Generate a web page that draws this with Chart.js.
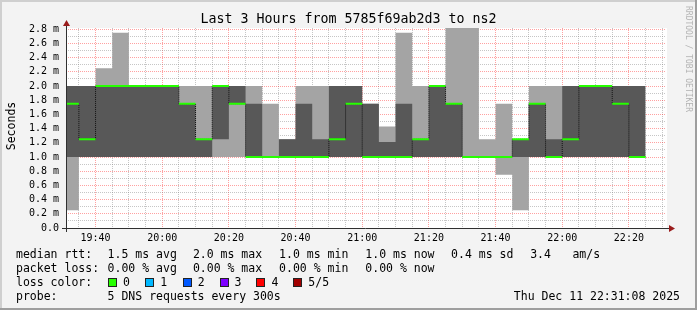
<!DOCTYPE html>
<html>
<head>
<meta charset="utf-8">
<script src="https://cdn.jsdelivr.net/npm/chart.js@4/dist/chart.umd.min.js"></script>
<style>
  html, body { margin: 0; padding: 0; background: #f3f3f3; }
  #wrap { position: relative; width: 697px; height: 310px; overflow: hidden;
          font-family: 'DejaVu Sans Mono', monospace; color: #000; }
  #wrap canvas { position: absolute; left: 0; top: 0; }
  .t { position: absolute; white-space: pre; font-size: 11.5px; line-height: 12px; }
  #title { position: absolute; left: 0; top: 12px; width: 697px; text-align: center;
           font-size: 13.3px; line-height: 14px; white-space: pre; }
  #ytitle { position: absolute; left: -19px; top: 120px; width: 60px; text-align: center;
            font-size: 11.5px; line-height: 12px; transform: rotate(-90deg); }
  #brand { position: absolute; left: 633px; top: 55px; width: 110px; text-align: center;
           font-size: 8px; line-height: 8px; color: #b4b4b4; transform: rotate(90deg); white-space: pre; }
  .sq { position: absolute; width: 7px; height: 7px; border: 1px solid #222; }
</style>
</head>
<body>
<div id="wrap">
  <canvas id="canvas" width="697" height="310"></canvas>
  <div id="title">Last 3 Hours from 5785f69ab2d3 to ns2</div>
  <div id="ytitle">Seconds</div>
  <div id="brand">RRDTOOL / TOBI OETIKER</div>
</div>
<script>
// end of each 5 minute step (rrd timestamps)
const times = ['19:35','19:40','19:45','19:50','19:55','20:00','20:05','20:10','20:15','20:20',
  '20:25','20:30','20:35','20:40','20:45','20:50','20:55','21:00','21:05','21:10',
  '21:15','21:20','21:25','21:30','21:35','21:40','21:45','21:50','21:55','22:00',
  '22:05','22:10','22:15','22:20','22:25'];

// sorted pings, ms
const ping1 = [0.25,1,1,1,1,1,1,1,1,1, 1,1,1,1,1,1,1,1,1,1, 1,1,1,1,1,1,0.75,0.25,1,1, 1,1,1,1,1];
const ping2 = [1,1,1,1,1,1,1,1,1,1.25, 1.75,1,1,1,1,1,1,1,1,1, 1,1,1,1,1,1,1,1,1,1, 1,1,1,1,1];
const median = [1.75,1.25,2,2,2,2,2,1.75,1.25,2, 1.75,1,1,1,1,1,1.25,1.75,1,1, 1,1.25,2,1.75,1,1,1,1.25,1.75,1, 1.25,2,2,1.75,1];
const ping4 = [2,2,2,2,2,2,2,1.75,1.25,2, 2,1.75,1,1.25,1.75,1.25,2,2,1.75,1.21, 1.75,1.25,2,1.75,1,1,1,1.25,1.75,1.25, 2,2,2,2,2];
const ping5 = [2,2,2.25,2.75,2,2,2,2,2,2, 2,2,1.75,1.25,2,2,2,2,1.75,1.43, 2.75,2,2,2.82,2.82,1.25,1.75,1.25,2,2, 2,2,2,2,2];

const rangeStart = '19:31:08';
const rangeEnd = '22:31:08';
const xLabelTimes = ['19:40','20:00','20:20','20:40','21:00','21:20','21:40','22:00','22:20'];
const yLabelVals = [0, 0.2, 0.4, 0.6, 0.8, 1.0, 1.2, 1.4, 1.6, 1.8, 2.0, 2.2, 2.4, 2.6, 2.8];

const rttStats = ['1.5 ms avg', '2.0 ms max', '1.0 ms min', '1.0 ms now', '0.4 ms sd'];
const amPerSec = '3.4';
const lossStats = ['0.00 % avg', '0.00 % max', '0.00 % min', '0.00 % now'];
const lossLabels = ['0', '1', '2', '3', '4', '5/5'];
const lossColors = ['#26ff00', '#00b8ff', '#0059ff', '#7e00ff', '#ff0000', '#a10000'];
const probeText = '5 DNS requests every 300s';
const stamp = 'Thu Dec 11 22:31:08 2025';

function toMin(s) {
  const p = s.split(':').map(Number);
  return p[0] * 60 + p[1] + (p[2] || 0) / 60;
}

// value i covers the 5 minutes up to times[i]
function stepSeries(vals) {
  const pts = [{ x: toMin(times[0]) - 5, y: vals[0] }];
  times.forEach((t, i) => pts.push({ x: toMin(t), y: vals[i] }));
  return pts;
}

const medianSegs = [];
times.forEach((t, i) => {
  const e = toMin(t);
  medianSegs.push({ x: e - 5, y: median[i] }, { x: e, y: median[i] }, { x: e, y: null });
});

const xMin = toMin(rangeStart), xMax = toMin(rangeEnd);
const xTickVals = [];
for (let m = Math.ceil(xMin / 5) * 5; m < xMax; m += 5) xTickVals.push(m);
const yTickVals = [];
for (let i = 0; i <= 28; i++) yTickVals.push(i / 10);

const fmt = m => String(Math.floor(m / 60)).padStart(2, '0') + ':' + String(Math.round(m % 60)).padStart(2, '0');
const isMajorX = v => Math.round(v) % 20 === 0;
const isMajorY = v => Math.round(v * 10) % 2 === 0;

const gridGray = 'rgba(128,128,128,0.45)';
const gridRed = 'rgba(255,0,0,0.37)';
const tickFont = { family: 'DejaVu Sans Mono', size: 10 };

const framePlugin = {
  id: 'frame',
  beforeDraw(chart) {
    const { ctx, chartArea: a, width, height } = chart;
    ctx.save();
    ctx.fillStyle = '#f3f3f3';
    ctx.fillRect(0, 0, width, height);
    ctx.fillStyle = '#cfcfcf';
    ctx.fillRect(0, 0, width, 2);
    ctx.fillRect(0, 0, 2, height);
    ctx.fillStyle = '#9e9e9e';
    ctx.fillRect(0, height - 2, width, 2);
    ctx.fillRect(width - 2, 0, 2, height);
    ctx.fillStyle = '#ffffff';
    ctx.fillRect(a.left, a.top, a.right - a.left + 1, a.bottom - a.top);
    ctx.restore();
  },
  afterDraw(chart) {
    const { ctx, chartArea: a } = chart;
    const x0 = a.left + 0.5, y0 = a.bottom + 0.5;
    ctx.save();
    ctx.strokeStyle = '#303030';
    ctx.lineWidth = 1;
    ctx.beginPath();
    ctx.moveTo(a.left - 4, y0);
    ctx.lineTo(a.right + 3, y0);
    ctx.moveTo(x0, a.bottom + 4);
    ctx.lineTo(x0, a.top - 2);
    ctx.stroke();
    ctx.fillStyle = '#9a1c1c';
    ctx.beginPath();
    ctx.moveTo(x0 - 3.5, a.top - 2);
    ctx.lineTo(x0 + 3.5, a.top - 2);
    ctx.lineTo(x0, a.top - 8);
    ctx.closePath();
    ctx.fill();
    ctx.beginPath();
    ctx.moveTo(a.right + 3, y0 - 3.5);
    ctx.lineTo(a.right + 3, y0 + 3.5);
    ctx.lineTo(a.right + 9, y0);
    ctx.closePath();
    ctx.fill();
    ctx.restore();
  }
};

const hidden = { borderColor: 'transparent', borderWidth: 0, stepped: 'after', pointRadius: 0, fill: false };

new Chart(document.getElementById('canvas'), {
  type: 'line',
  data: {
    datasets: [
      { ...hidden, data: stepSeries(ping1), order: 5 },
      { ...hidden, data: stepSeries(ping5), order: 4, fill: '-1', backgroundColor: '#a4a4a4' },
      { ...hidden, data: stepSeries(ping2), order: 3 },
      { ...hidden, data: stepSeries(ping4), order: 2, fill: '-1', backgroundColor: '#585858' },
      { data: stepSeries(median), order: 1, stepped: 'after', borderColor: '#111111', borderWidth: 1,
        borderDash: [1, 1], pointRadius: 0, fill: false },
      { data: medianSegs, order: 0, borderColor: lossColors[0], borderWidth: 2, pointRadius: 0,
        fill: false, spanGaps: false, borderCapStyle: 'butt' }
    ]
  },
  options: {
    responsive: false,
    animation: false,
    devicePixelRatio: 1,
    layout: { padding: { top: 28, right: 31, left: 0, bottom: 0 } },
    plugins: { legend: { display: false }, title: { display: false }, tooltip: { enabled: false } },
    elements: { line: { tension: 0 } },
    scales: {
      x: {
        type: 'linear',
        min: xMin,
        max: xMax,
        afterFit: s => { s.height = 82; },
        afterBuildTicks: s => { s.ticks = xTickVals.map(v => ({ value: v })); },
        grid: { drawTicks: false, lineWidth: 1, color: c => (c.tick && isMajorX(c.tick.value) ? gridRed : gridGray) },
        border: { display: false, dash: [1, 1] },
        ticks: {
          autoSkip: false, maxRotation: 0, padding: 4, color: '#000', font: tickFont,
          callback: v => (xLabelTimes.includes(fmt(v)) ? fmt(v) : '')
        }
      },
      y: {
        min: 0,
        max: 2.818,
        afterFit: s => { s.width = 66; },
        afterBuildTicks: s => { s.ticks = yTickVals.map(v => ({ value: v })); },
        grid: { drawTicks: false, lineWidth: 1, color: c => (c.tick && c.tick.value > 0 && isMajorY(c.tick.value) ? gridRed : (c.tick && c.tick.value > 0 ? gridGray : 'transparent')) },
        border: { display: false, dash: [1, 1] },
        ticks: {
          autoSkip: false, padding: 7, color: '#000', font: tickFont,
          callback: v => {
            const hit = yLabelVals.find(l => Math.abs(l - v) < 1e-6);
            if (hit === undefined) return '';
            return hit === 0 ? '0.0' : hit.toFixed(1) + ' m';
          }
        }
      }
    }
  },
  plugins: [framePlugin]
});

// legend block under the plot
const wrap = document.getElementById('wrap');
function put(text, x, baseline, extra) {
  const el = document.createElement('div');
  el.className = 't';
  el.textContent = text;
  el.style.left = x + 'px';
  el.style.top = (baseline - 10) + 'px';
  if (extra) Object.assign(el.style, extra);
  wrap.appendChild(el);
  return el;
}
const rowBase = [258, 272, 286, 300];
const colX = [107.6, 192.9, 279.1, 365.3, 451.1];
put('median rtt:', 16, rowBase[0]);
rttStats.forEach((s, i) => put(s, colX[i], rowBase[0]));
put(amPerSec, 530.2, rowBase[0]);
put('am/s', 572.4, rowBase[0]);
put('packet loss:', 16, rowBase[1]);
lossStats.forEach((s, i) => put(s, colX[i], rowBase[1]));
put('loss color:', 16, rowBase[2]);
const sqX = [108, 145.3, 182.7, 219.6, 256.4, 293.3];
lossLabels.forEach((l, i) => {
  const sq = document.createElement('div');
  sq.className = 'sq';
  sq.style.left = sqX[i] + 'px';
  sq.style.top = (rowBase[2] - 8.5) + 'px';
  sq.style.background = lossColors[i];
  wrap.appendChild(sq);
  put(l, sqX[i] + 15, rowBase[2]);
});
put('probe:', 16, rowBase[3]);
put(probeText, 107.6, rowBase[3]);
const st = put(stamp, 0, rowBase[3]);
st.style.left = (680 - st.getBoundingClientRect().width) + 'px';
</script>
</body>
</html>
